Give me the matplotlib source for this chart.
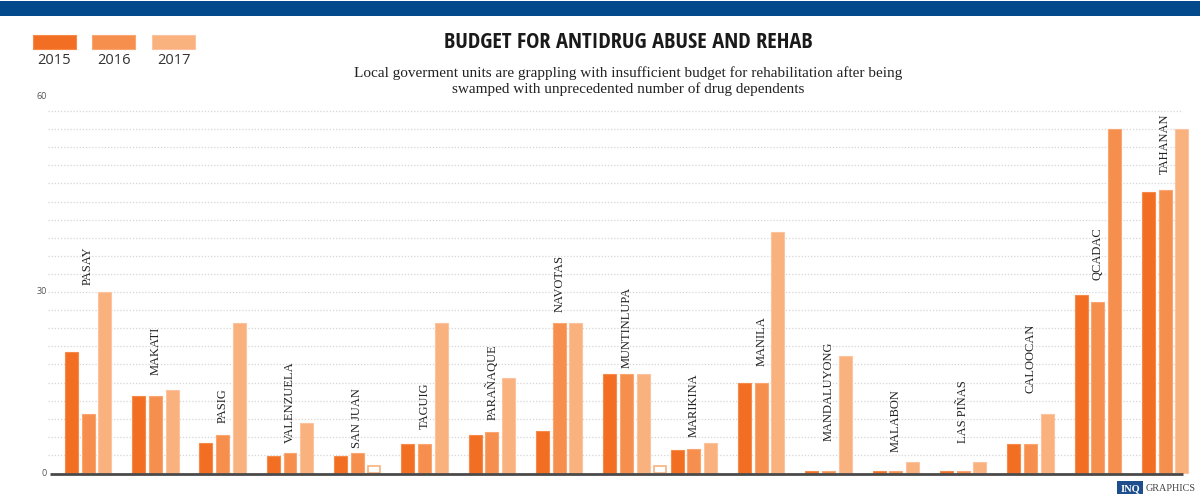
import matplotlib
matplotlib.use("Agg")
import matplotlib.pyplot as plt
from matplotlib.patches import Rectangle
import numpy as np
import warnings
warnings.filterwarnings("ignore")

# ---------------- data ----------------
cities = ["PASAY", "MAKATI", "PASIG", "VALENZUELA", "SAN JUAN", "TAGUIG",
          "PARAÑAQUE", "NAVOTAS", "MUNTINLUPA", "MARIKINA", "MANILA",
          "MANDALUYONG", "MALABON", "LAS PIÑAS", "CALOOCAN", "QCADAC", "TAHANAN"]
years = ["2015", "2016", "2017"]
v2015 = [20.0, 12.8, 5.0, 2.75, 2.75, 4.75, 6.25, 7.0, 16.35, 3.75, 14.85,
         0.3, 0.3, 0.3, 4.75, 29.5, 46.6]
v2016 = [9.8, 12.8, 6.35, 3.25, 3.25, 4.75, 6.8, 24.8, 16.35, 4.0, 14.85,
         0.3, 0.3, 0.3, 4.75, 28.3, 46.95]
v2017 = [30.0, 13.75, 24.8, 8.3, 1.15, 24.8, 15.8, 24.8, 16.35, 5.0, 39.9,
         19.45, 1.9, 1.9, 9.8, 57.1, 57.1]
# 2017 bars drawn as outline only (no fill) in the original
outline_2017 = ["SAN JUAN"]
# an extra unfilled bar after the MUNTINLUPA group
extra_city = "MUNTINLUPA"
extra_value = 1.15
# where the rotated city labels start (in value units)
label_base = [31.3, 16.4, 8.45, 5.1, 4.3, 7.5, 8.95, 26.85, 17.6, 6.1, 17.9,
              5.5, 3.65, 5.1, 13.4, 32.2, 49.7]
ytick_vals = [0, 30, 60]
ytick_pos = [0, 30.2, 62.5]

title = "BUDGET FOR ANTIDRUG ABUSE AND REHAB"
subtitle = ["Local goverment units are grappling with insufficient budget for rehabilitation after being",
            "swamped with unprecedented number of drug dependents"]

# ---------------- style ----------------
W, H = 1200, 502
colors = ["#F26E22", "#F68F4E", "#F9B17E"]
edges = ["#F58A4A", "#F9A672", "#FBC49E"]
# original draws QCADAC 2017 in the 2016 colour
color_override = {("QCADAC", 2): 1}

fig = plt.figure(figsize=(W / 100, H / 100), dpi=100)
fig.patch.set_facecolor("white")

def fx(px):
    return px / W

def fy(py):
    return (H - py) / H

# top blue band
fig.add_artist(Rectangle((fx(0), fy(17)), 1, 15 / H, transform=fig.transFigure,
                         facecolor="#034A8C", edgecolor="none"))

# axes
ax_left, ax_right, ax_top, ax_bot = 48, 1183, 100, 474
ax = fig.add_axes([fx(ax_left), fy(ax_bot), (ax_right - ax_left) / W, (ax_bot - ax_top) / H])
ax.set_xlim(-0.595, 16.266)
ax.set_ylim(0, 62.0)
for s in ax.spines.values():
    s.set_visible(False)
ax.set_xticks([])
ax.set_yticks([])

# dotted gridlines
for g in np.arange(3, 61, 3):
    ax.axhline(g, color="#D6D6D6", lw=0.9, ls=(0, (1, 1.5)), zorder=0)

n = len(cities)
x = np.arange(n)
step = 0.248
bw = 0.193
series = [v2015, v2016, v2017]
for k, vals in enumerate(series):
    for i, v in enumerate(vals):
        ci = color_override.get((cities[i], k), k)
        xc = x[i] + (k - 1) * step
        if k == 2 and cities[i] in outline_2017:
            ax.bar(xc, v, width=bw * 0.95, facecolor="white", edgecolor=colors[2],
                   linewidth=1.2, zorder=3, clip_on=False)
        else:
            ax.bar(xc, v, width=bw, color=colors[ci], edgecolor=edges[ci],
                   linewidth=0.8, zorder=3, clip_on=False)

ei = cities.index(extra_city)
ax.bar(x[ei] + 2 * step, extra_value, width=bw * 0.95, facecolor="white",
       edgecolor=colors[2], linewidth=1.2, zorder=3)

# baseline
ax.plot([-0.565, 16.266], [-0.15, -0.15], color="#4A4A4A", lw=2.0, zorder=4,
        clip_on=False, solid_capstyle="butt")

# city labels
for i, c in enumerate(cities):
    ax.text(x[i], label_base[i], c, rotation=90, ha="center", va="bottom",
            family=["Liberation Serif", "DejaVu Serif"], fontsize=9, color="#222222",
            zorder=5)

# y tick labels
for tv, tp in zip(ytick_vals, ytick_pos):
    ax.text(-0.595 - 0.02, tp, str(tv), ha="right", va="center", fontsize=6.5,
            family=["Open Sans", "DejaVu Sans"], color="#555555", clip_on=False)

# legend
leg_x = [33, 92, 152]
for k, yr in enumerate(years):
    fig.add_artist(Rectangle((fx(leg_x[k]), fy(50)), 43 / W, 14 / H,
                             transform=fig.transFigure, facecolor=colors[k],
                             edgecolor=edges[k], lw=0.8))
    fig.text(fx(leg_x[k] + 21.5), fy(61), yr, ha="center", va="center",
             fontsize=10.5, family=["Open Sans", "DejaVu Sans"], color="#333333")

# title (fit to original width)
tfam = ["Open Sans Condensed", "Roboto Condensed", "Noto Sans Condensed",
        "DejaVu Sans Condensed", "Liberation Sans Narrow", "DejaVu Sans"]
t = fig.text(fx(628), fy(43), title, ha="center", va="center", fontsize=21,
             fontweight="bold", fontstretch="condensed", family=tfam, color="#1A1A1A")
fig.canvas.draw()
bb = t.get_window_extent()
t.set_fontsize(21 * 370.0 / bb.width)

for j, line in enumerate(subtitle):
    fig.text(fx(628), fy(73.5 + 16 * j), line, ha="center", va="center", fontsize=11,
             family=["Liberation Serif", "DejaVu Serif"], color="#222222")

# logo
fig.add_artist(Rectangle((fx(1117), fy(495)), 26 / W, 13 / H, transform=fig.transFigure,
                         facecolor="#1F4E8C", edgecolor="none"))
fig.text(fx(1130), fy(488.5), "INQ", ha="center", va="center", fontsize=7.5,
         fontweight="bold", family=["Liberation Serif", "DejaVu Serif"], color="white")
fig.text(fx(1146), fy(488.5), "GRAPHICS", ha="left", va="center", fontsize=7.3,
         family=["Liberation Serif", "DejaVu Serif"], color="#444444")

fig.savefig("out.png", dpi=100, facecolor="white")
